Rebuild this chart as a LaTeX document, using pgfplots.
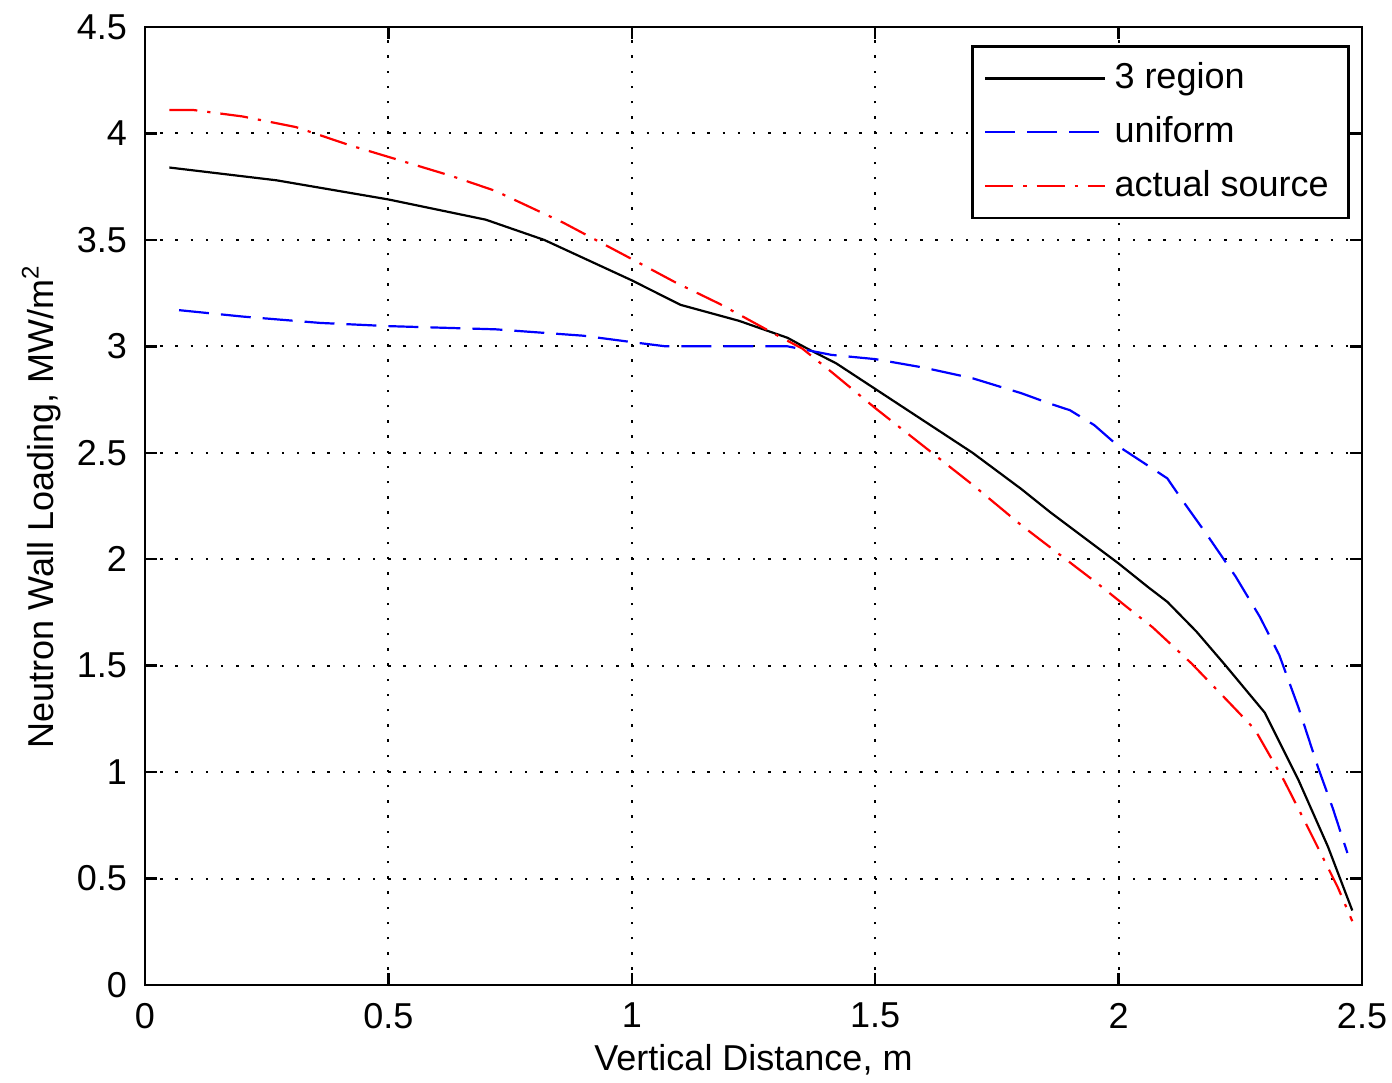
\documentclass[border=0pt]{standalone}
\usepackage{pgfplots}
\pgfplotsset{compat=1.18}
\usepackage{fontspec}
\setmainfont{Liberation Sans}
\begin{document}
\begin{tikzpicture}
\begin{axis}[
  at={(0,0)}, anchor=south west,
  scale only axis,
  width=304.25pt, height=239.5pt,
  xmin=0, xmax=2.5, ymin=0, ymax=4.5,
  xtick={0,0.5,1,1.5,2,2.5},
  ytick={0,0.5,1,1.5,2,2.5,3,3.5,4,4.5},
  tick align=inside,
  major tick length=3pt,
  axis line style={line width=0.6pt},
  tick style={line width=0.6pt, black},
  grid=major,
  major grid style={black, line width=0.5pt, dash pattern=on 0.6pt off 3.2pt},
  font=\fontsize{9}{10.8}\selectfont,
  tick label style={font=\fontsize{9}{10.8}\selectfont},
  /pgf/number format/assume math mode=true,
  xticklabel style={yshift=-1pt},
  yticklabel style={xshift=-1pt},
  xlabel={Vertical Distance, m},
  ylabel={Neutron Wall Loading, MW/m\textsuperscript{2}},
  xlabel style={yshift=3pt},
  ylabel style={yshift=-3pt},
  legend style={at={(0.990,0.981)}, anchor=north east, draw=black, line width=0.6pt,
    font=\fontsize{9}{10.8}\selectfont, inner xsep=3pt, inner ysep=2pt,
    row sep=1.45pt},
  legend cell align=left,
  legend image code/.code={\draw[#1] (0pt,0pt) -- (30pt,0pt);},
]
\addplot[black, line width=0.55pt] coordinates {
(0.05,3.84)(0.27,3.78)(0.5,3.69)(0.70,3.595)(0.82,3.50)(1.0,3.31)(1.1,3.195)(1.22,3.12)(1.32,3.04)(1.36,2.99)(1.42,2.92)(1.5,2.80)(1.6,2.65)(1.7,2.50)(1.8,2.33)(1.86,2.22)(1.93,2.10)(2.0,1.98)(2.06,1.87)(2.1,1.80)(2.16,1.66)(2.22,1.50)(2.30,1.28)(2.37,0.96)(2.43,0.65)(2.48,0.35)};
\addlegendentry{3 region}
\addplot[blue, line width=0.55pt, dash pattern=on 7.5pt off 3pt] coordinates {
(0.07,3.17)(0.2,3.14)(0.36,3.11)(0.5,3.095)(0.72,3.08)(0.9,3.05)(1.0,3.02)(1.07,3.0)(1.2,3.0)(1.32,3.0)(1.41,2.96)(1.5,2.94)(1.6,2.90)(1.7,2.85)(1.8,2.78)(1.86,2.73)(1.9,2.70)(1.95,2.63)(2.0,2.53)(2.06,2.44)(2.1,2.38)(2.13,2.28)(2.18,2.12)(2.24,1.92)(2.29,1.73)(2.33,1.55)(2.37,1.30)(2.41,1.02)(2.44,0.83)(2.47,0.62)};
\addlegendentry{uniform}
\addplot[red, line width=0.55pt, dash pattern=on 7pt off 2.5pt on 0.8pt off 2.5pt] coordinates {
(0.05,4.11)(0.1,4.11)(0.2,4.08)(0.31,4.03)(0.42,3.945)(0.5,3.89)(0.63,3.80)(0.72,3.73)(0.86,3.58)(1.0,3.41)(1.09,3.30)(1.18,3.20)(1.30,3.05)(1.35,2.99)(1.41,2.88)(1.5,2.71)(1.6,2.53)(1.7,2.35)(1.8,2.16)(1.88,2.02)(1.96,1.88)(2.02,1.77)(2.07,1.68)(2.15,1.51)(2.23,1.32)(2.28,1.20)(2.34,0.96)(2.38,0.78)(2.45,0.46)(2.48,0.30)};
\addlegendentry{actual source}
\end{axis}
\pgfresetboundingbox
\useasboundingbox (-36.25pt,-24.25pt) rectangle (311.75pt,246.25pt);
\end{tikzpicture}
\end{document}
